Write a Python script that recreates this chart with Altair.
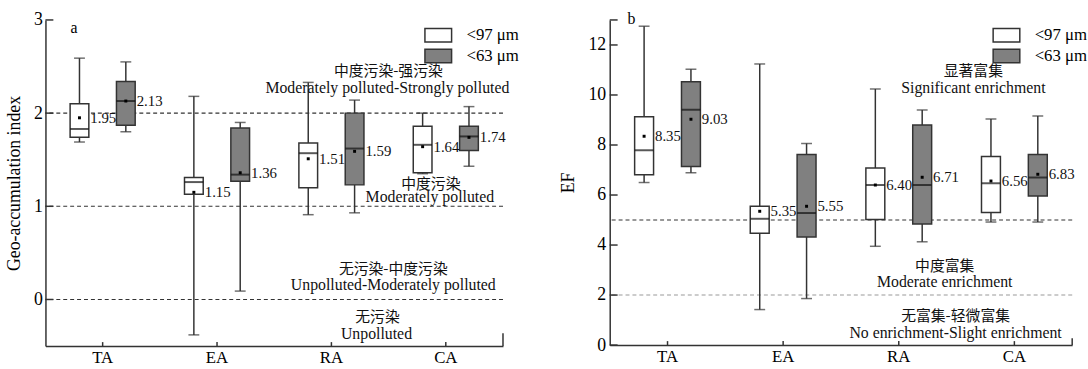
import altair as alt
import pandas as pd

categories = ["TA", "EA", "RA", "CA"]
groups = ["<97 μm", "<63 μm"]

# Geo-accumulation index (panel a)
igeo_min_97 = [1.69, -0.38, 0.91, 1.35]
igeo_q1_97 = [1.74, 1.13, 1.20, 1.36]
igeo_med_97 = [1.83, 1.26, 1.57, 1.66]
igeo_q3_97 = [2.10, 1.31, 1.68, 1.86]
igeo_max_97 = [2.59, 2.18, 2.33, 2.00]
igeo_mean_97 = [1.95, 1.15, 1.51, 1.64]

igeo_min_63 = [1.80, 0.09, 0.93, 1.43]
igeo_q1_63 = [1.87, 1.27, 1.23, 1.60]
igeo_med_63 = [2.13, 1.34, 1.62, 1.75]
igeo_q3_63 = [2.34, 1.84, 2.00, 1.86]
igeo_max_63 = [2.55, 1.90, 2.14, 2.07]
igeo_mean_63 = [2.13, 1.36, 1.59, 1.74]

# Enrichment factor (panel b)
ef_min_97 = [6.50, 1.42, 3.95, 4.92]
ef_q1_97 = [6.81, 4.47, 5.02, 5.30]
ef_med_97 = [7.79, 5.05, 6.40, 6.47]
ef_q3_97 = [9.13, 5.55, 7.08, 7.54]
ef_max_97 = [12.75, 11.24, 10.24, 9.04]
ef_mean_97 = [8.35, 5.35, 6.40, 6.56]

ef_min_63 = [6.89, 1.86, 4.13, 4.92]
ef_q1_63 = [7.14, 4.32, 4.84, 5.96]
ef_med_63 = [9.41, 5.28, 6.40, 6.70]
ef_q3_63 = [10.53, 7.62, 8.80, 7.62]
ef_max_63 = [11.03, 8.06, 9.40, 9.16]
ef_mean_63 = [9.03, 5.55, 6.71, 6.83]

igeo_ticks = [0, 1, 2, 3]
igeo_thresholds = [0, 1, 2]
ef_ticks = [0, 2, 4, 6, 8, 10, 12]
ef_thresholds = [5, 2]

igeo_zh = ["中度污染-强污染", "中度污染", "无污染-中度污染", "无污染"]
igeo_en = ["Moderately polluted-Strongly polluted", "Moderately polluted",
           "Unpolluted-Moderately polluted", "Unpolluted"]
igeo_zh_y = [2.45, 1.24, 0.33, -0.19]
igeo_en_y = [2.27, 1.10, 0.15, -0.37]

ef_zh = ["显著富集", "中度富集", "无富集-轻微富集"]
ef_en = ["Significant enrichment", "Moderate enrichment", "No enrichment-Slight enrichment"]
ef_zh_y = [10.94, 3.15, 1.18]
ef_en_y = [10.26, 2.52, 0.50]

FONT = "Liberation Serif"
CJK = "Noto Sans CJK SC"
DARK = "#333333"


def box_table(stats97, stats63):
    rows = []
    for g, st in zip(groups, [stats97, stats63]):
        mn, q1, md, q3, mx, me = st
        for i, c in enumerate(categories):
            rows.append(dict(cat=c, grp=g, lo=mn[i], q1=q1[i], med=md[i],
                             q3=q3[i], hi=mx[i], mean=me[i]))
    return pd.DataFrame(rows)


def panel(df, ydomain, yticks, ytitle, W, H, thr, thr_colors, zh, zh_y, zh_x,
          en, en_y, en_x, letter, letter_xy, legend_xy, end_cap, top_cap,
          title_pad, label_pad):
    yscale = alt.Scale(domain=ydomain, nice=False, zero=False)
    yaxis = alt.Axis(values=yticks, ticks=False, grid=False, labelPadding=label_pad,
                     labelFont=FONT, labelFontSize=18, labelColor="black",
                     domainColor=DARK, domainWidth=1.5, title=ytitle,
                     titleFont=FONT, titleFontSize=18, titleFontWeight="normal",
                     titleColor="black", titlePadding=title_pad, format="d")

    def Y(f):
        return alt.Y(f, type="quantitative", scale=yscale, axis=yaxis)

    x = alt.X("cat:N", sort=categories,
              scale=alt.Scale(type="band", paddingInner=0, paddingOuter=0),
              axis=alt.Axis(title=None, labelAngle=0, ticks=False, labelPadding=4,
                            labelFont=FONT, labelFontSize=17, labelColor="black",
                            domainColor=DARK, domainWidth=1.5))
    xo = alt.XOffset("grp:N", sort=groups,
                     scale=alt.Scale(type="band", paddingInner=0.596, paddingOuter=0.532))

    base = alt.Chart(df)
    layers = []
    for v, col in zip(thr, thr_colors):
        layers.append(alt.Chart(pd.DataFrame({"v": [v]})).mark_rule(
            color=col, strokeDash=[4, 3], strokeWidth=1.1).encode(y=Y("v")))
    tick_vals = list(yticks) + ([top_cap] if top_cap is not None else [])
    layers.append(alt.Chart(pd.DataFrame({"v": tick_vals})).mark_rule(
        color=DARK, strokeWidth=1.5).encode(y=Y("v"), x=alt.value(0), x2=alt.value(8)))
    layers.append(alt.Chart(pd.DataFrame({"cat": categories})).mark_rule(
        color=DARK, strokeWidth=1.5).encode(x=x, y=alt.value(H), y2=alt.value(H - 4)))
    layers.append(alt.Chart(pd.DataFrame({"v": [ydomain[0]]})).mark_rule(
        color=DARK, strokeWidth=1.5).encode(y=Y("v"), y2=alt.value(H - end_cap),
                                             x=alt.value(W)))
    layers.append(base.mark_rule(color=DARK, strokeWidth=1.5).encode(
        x=x, xOffset=xo, y=Y("lo"), y2="hi:Q"))
    layers.append(base.mark_bar(stroke=DARK, strokeWidth=1.5, opacity=1).encode(
        x=x, xOffset=xo, y=Y("q1"), y2="q3:Q",
        fill=alt.Fill("grp:N", sort=groups,
                      scale=alt.Scale(domain=groups, range=["#ffffff", "#808080"]),
                      legend=alt.Legend(orient="none", legendX=legend_xy[0],
                                        legendY=legend_xy[1], title=None,
                                        symbolType="M-2,-1H2V1H-2Z",
                                        symbolSize=182, symbolStrokeColor=DARK,
                                        symbolStrokeWidth=1.5, symbolOpacity=1,
                                        labelFont=FONT, labelFontSize=17,
                                        labelColor="black", rowPadding=0,
                                        padding=0, labelOffset=20))))
    for f in ["lo", "hi"]:
        layers.append(base.mark_tick(color=DARK, size=11, thickness=1.5).encode(
            x=x, xOffset=xo, y=Y(f)))
    layers.append(base.mark_tick(color="#111111", size=19, thickness=2).encode(
        x=x, xOffset=xo, y=Y("med")))
    layers.append(base.mark_square(color="black", size=9, opacity=1).encode(
        x=x, xOffset=xo, y=Y("mean")))
    layers.append(base.mark_text(align="left", baseline="middle", dx=11, font=FONT,
                                 fontSize=15, color="#111111").encode(
        x=x, xOffset=xo, y=Y("mean"), text=alt.Text("mean:Q", format=".2f")))
    for t, v, px in zip(zh, zh_y, zh_x):
        layers.append(alt.Chart(pd.DataFrame({"t": [t], "v": [v]})).mark_text(
            font=CJK, fontSize=15, color="#111111", baseline="middle").encode(
            x=alt.value(px), y=Y("v"), text="t:N"))
    for t, v, px in zip(en, en_y, en_x):
        layers.append(alt.Chart(pd.DataFrame({"t": [t], "v": [v]})).mark_text(
            font=FONT, fontSize=16, color="#111111", baseline="middle").encode(
            x=alt.value(px), y=Y("v"), text="t:N"))
    layers.append(alt.Chart(pd.DataFrame({"t": [letter]})).mark_text(
        font=FONT, fontSize=16, color="black", baseline="middle").encode(
        x=alt.value(letter_xy[0]), y=alt.value(letter_xy[1]), text="t:N"))

    return alt.layer(*layers).properties(width=W, height=H)


df_a = box_table([igeo_min_97, igeo_q1_97, igeo_med_97, igeo_q3_97, igeo_max_97, igeo_mean_97],
                 [igeo_min_63, igeo_q1_63, igeo_med_63, igeo_q3_63, igeo_max_63, igeo_mean_63])
df_b = box_table([ef_min_97, ef_q1_97, ef_med_97, ef_q3_97, ef_max_97, ef_mean_97],
                 [ef_min_63, ef_q1_63, ef_med_63, ef_q3_63, ef_max_63, ef_mean_63])

left = panel(df_a, [-0.5, 3], igeo_ticks, "Geo-accumulation index", 463, 330,
             igeo_thresholds, [DARK, DARK, DARK],
             igeo_zh, igeo_zh_y, [347, 390, 352, 336],
             igeo_en, igeo_en_y, [346, 389, 352, 335],
             "a", (29, 8), (389, 7), 13, None, 10, 3)
right = panel(df_b, [0, 13], ef_ticks, "EF", 468, 329,
              ef_thresholds, [DARK, "#999999"],
              ef_zh, ef_zh_y, [368, 339, 350],
              ef_en, ef_en_y, [368, 339, 350],
              "b", (22, -1), (393, 7), 7, 13, 11, 4)

chart = alt.hconcat(left, right, spacing=40).resolve_scale(
    x="independent", y="independent", fill="independent", xOffset="independent"
).resolve_legend(fill="independent").configure_view(stroke=None).properties(
    padding={"left": 6, "top": 9, "right": 0, "bottom": 0},
    background="white")

chart.save("out.html", embed_options={"renderer": "svg", "actions": False})
